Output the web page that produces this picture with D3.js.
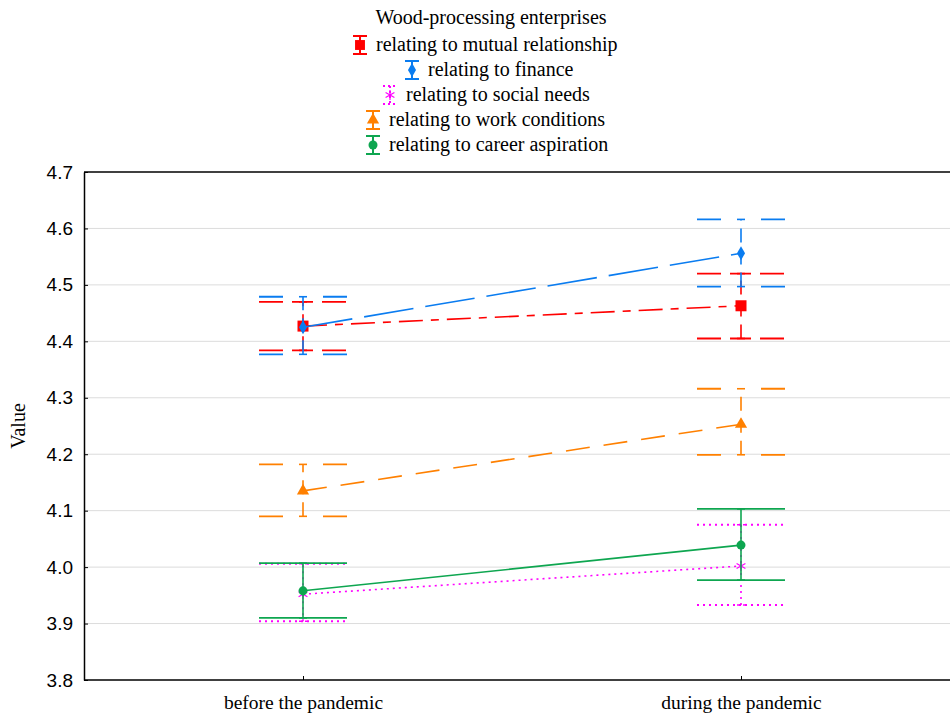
<!DOCTYPE html>
<html>
<head>
<meta charset="utf-8">
<script src="https://cdn.jsdelivr.net/npm/d3@7"></script>
<style>
  body { margin: 0; background: #fff; }
</style>
</head>
<body>
<div id="chart"></div>
<script>
// categories and values
var periods = ["before the pandemic", "during the pandemic"];
var seriesNames = ["relating to mutual relationship", "relating to finance", "relating to social needs",
                   "relating to work conditions", "relating to career aspiration"];
var mutualMean = [4.427, 4.463], mutualLow = [4.384, 4.405], mutualHigh = [4.470, 4.520];
var financeMean = [4.425, 4.556], financeLow = [4.377, 4.497], financeHigh = [4.479, 4.616];
var socialMean = [3.952, 4.002], socialLow = [3.904, 3.933], socialHigh = [4.006, 4.075];
var workMean = [4.135, 4.253], workLow = [4.090, 4.199], workHigh = [4.182, 4.316];
var careerMean = [3.958, 4.039], careerLow = [3.910, 3.977], careerHigh = [4.007, 4.103];
var yTicks = [3.8, 3.9, 4.0, 4.1, 4.2, 4.3, 4.4, 4.5, 4.6, 4.7];

function init() {
    var w = 950, h = 713;
    var left = 84, right = 960, top = 172, bottom = 680;
    var serif = "Liberation Serif, Times New Roman, serif";

    var series = [
        {name: seriesNames[0], mean: mutualMean, low: mutualLow, high: mutualHigh, color: "#ff0000", dash: "24,8,8,8", cap: "24,9,21,9", marker: "square"},
        {name: seriesNames[1], mean: financeMean, low: financeLow, high: financeHigh, color: "#0a7cf0", dash: "50,12", cap: "24,40", marker: "diamond"},
        {name: seriesNames[2], mean: socialMean, low: socialLow, high: socialHigh, color: "#ff00ff", dash: "2,4", cap: "2,4", marker: "star"},
        {name: seriesNames[3], mean: workMean, low: workLow, high: workHigh, color: "#ff8000", dash: "24,14", cap: "24,40", marker: "triangle"},
        {name: seriesNames[4], mean: careerMean, low: careerLow, high: careerHigh, color: "#0ea650", dash: null, cap: null, marker: "circle"}
    ];

    var svg = d3.select("#chart").append("svg")
        .attr("width", w).attr("height", h);

    var x = d3.scalePoint().domain(periods).range([left, right]).padding(0.5);
    var y = d3.scaleLinear().domain([3.8, 4.7]).range([bottom, top]);

    // grid
    svg.append("g").selectAll("line")
        .data(yTicks.slice(1, -1))
        .enter().append("line")
        .attr("x1", left).attr("x2", w)
        .attr("y1", d => y(d)).attr("y2", d => y(d))
        .attr("stroke", "#dcdcdc").attr("stroke-width", 1);

    // frame
    svg.append("line").attr("x1", left).attr("x2", w).attr("y1", top).attr("y2", top)
        .attr("stroke", "#000").attr("stroke-width", 1.5);

    var yAxis = d3.axisLeft(y).tickValues(yTicks).tickFormat(d3.format(".1f"))
        .tickSizeInner(-4).tickSizeOuter(0).tickPadding(11);
    var gy = svg.append("g").attr("transform", `translate(${left},0)`).call(yAxis);
    gy.selectAll("text").attr("font-family", "Liberation Sans, Arial, sans-serif").attr("font-size", "19px").attr("fill", "#000");
    gy.select(".domain").attr("stroke-width", 1.5);

    var xAxis = d3.axisBottom(x).tickSizeInner(-4).tickSizeOuter(0).tickPadding(15);
    var gx = svg.append("g").attr("transform", `translate(0,${bottom})`).call(xAxis);
    gx.selectAll("text").attr("font-family", serif).attr("font-size", "19.5px").attr("fill", "#000");
    gx.select(".domain").attr("stroke-width", 1.5).attr("d", `M${left},0H${w}`);

    svg.append("text")
        .attr("transform", `translate(25,${(top + bottom) / 2}) rotate(-90)`)
        .attr("text-anchor", "middle")
        .attr("font-family", serif).attr("font-size", "20px")
        .text("Value");

    function drawMarker(g, type, cx, cy, color, s) {
        if (type === "square") {
            g.append("rect").attr("x", cx - s * 0.55).attr("y", cy - s * 0.55).attr("width", s * 1.1).attr("height", s * 1.1).attr("fill", color);
        } else if (type === "diamond") {
            g.append("path").attr("d", d3.symbol(d3.symbolDiamond, s * s * 0.7)()).attr("transform", `translate(${cx},${cy})`).attr("fill", color);
        } else if (type === "triangle") {
            g.append("path").attr("d", d3.symbol(d3.symbolTriangle, s * s * 0.8)()).attr("transform", `translate(${cx},${cy})`).attr("fill", color);
        } else if (type === "circle") {
            g.append("circle").attr("cx", cx).attr("cy", cy).attr("r", s * 0.5).attr("fill", color);
        } else if (type === "star") {
            g.append("path").attr("d", d3.symbol(d3.symbolAsterisk, s * s * 0.9)()).attr("transform", `translate(${cx},${cy})`)
                .attr("stroke", color).attr("stroke-width", 1.2).attr("fill", "none");
        }
    }

    var capHalf = 44;
    // draw series in legend order, later ones on top
    series.forEach(function(s) {
        var g = svg.append("g");
        var pts = periods.map((p, i) => [x(p), y(s.mean[i])]);
        g.append("path").attr("d", d3.line()(pts))
            .attr("fill", "none").attr("stroke", s.color).attr("stroke-width", 1.6)
            .attr("stroke-dasharray", s.dash);
        periods.forEach(function(p, i) {
            var cx = x(p);
            g.append("line").attr("x1", cx).attr("x2", cx)
                .attr("y1", y(s.low[i])).attr("y2", y(s.high[i]))
                .attr("stroke", s.color).attr("stroke-width", 1.6).attr("stroke-dasharray", s.dash ? (s.marker === "star" ? "2,4" : "14,8") : null);
            [s.low[i], s.high[i]].forEach(function(v) {
                g.append("line").attr("x1", cx - capHalf).attr("x2", cx + capHalf)
                    .attr("y1", y(v)).attr("y2", y(v))
                    .attr("stroke", s.color).attr("stroke-width", s.marker === "star" ? 2 : 1.8)
                    .attr("stroke-dasharray", s.cap);
                g.append("line").attr("x1", cx - 4).attr("x2", cx + 4)
                    .attr("y1", y(v)).attr("y2", y(v))
                    .attr("stroke", s.color).attr("stroke-width", 1.6).attr("stroke-dasharray", s.marker === "star" ? "2,4" : null);
            });
            drawMarker(g, s.marker, cx, y(s.mean[i]), s.color, s.marker === "square" ? 10 : 9);
        });
    });

    // legend
    var lg = svg.append("g").attr("font-family", serif).attr("font-size", "20px");
    lg.append("text").attr("x", 491).attr("y", 24).attr("text-anchor", "middle").text("Wood-processing enterprises");
    var iconX = [360, 412, 390, 373, 373];
    series.forEach(function(s, i) {
        var cy = 45 + i * 25;
        var ix = iconX[i];
        var ig = lg.append("g");
        ig.append("line").attr("x1", ix).attr("x2", ix).attr("y1", cy - 9).attr("y2", cy + 9)
            .attr("stroke", s.color).attr("stroke-width", 2).attr("stroke-dasharray", s.marker === "star" ? "2,3" : null);
        [cy - 9, cy + 9].forEach(function(yy) {
            ig.append("line").attr("x1", ix - 7).attr("x2", ix + 7).attr("y1", yy).attr("y2", yy)
                .attr("stroke", s.color).attr("stroke-width", 2).attr("stroke-dasharray", s.marker === "star" ? "2,3" : null);
        });
        drawMarker(ig, s.marker, ix, cy, s.color, 9);
        lg.append("text").attr("x", ix + 16).attr("y", cy + 6).text(s.name);
    });
}

window.onload = init;
</script>
</body>
</html>
